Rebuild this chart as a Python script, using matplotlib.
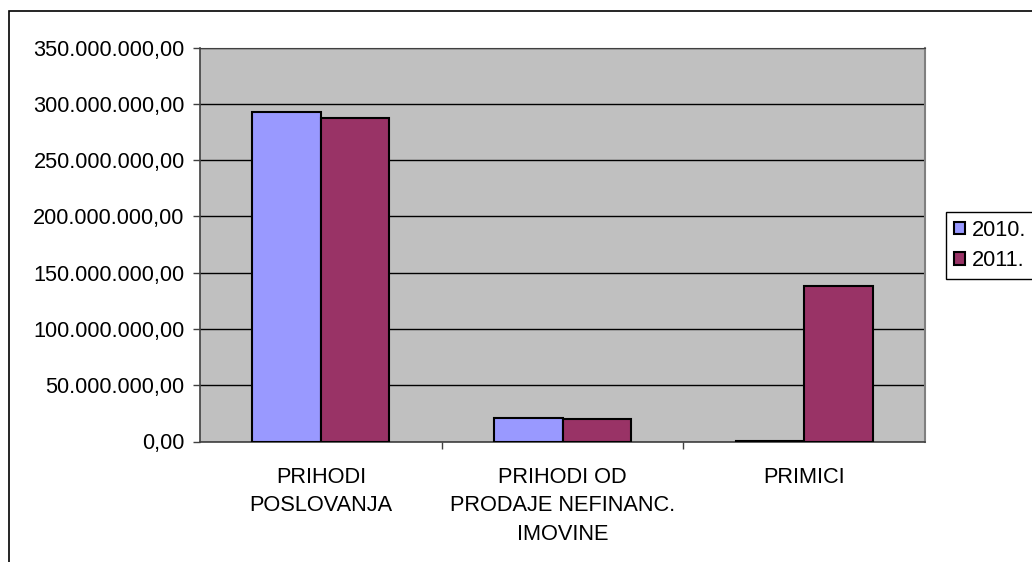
import matplotlib
matplotlib.use("Agg")
import matplotlib.pyplot as plt
from matplotlib.patches import Rectangle
from matplotlib.ticker import FuncFormatter, MultipleLocator
import numpy as np

categories = ["PRIHODI\nPOSLOVANJA", "PRIHODI OD\nPRODAJE NEFINANC.\nIMOVINE", "PRIMICI"]
series_names = ["2010.", "2011."]
values_2010 = [292.7e6, 20.6e6, 0.4e6]
values_2011 = [287.4e6, 19.7e6, 138.4e6]
colors = ["#9999FF", "#993366"]

plt.rcParams['font.family'] = ['Liberation Sans', 'DejaVu Sans']
FS = 15.7

fig = plt.figure(figsize=(10.32, 5.62), dpi=100)
W, H = 1032, 562
ax = fig.add_axes([200 / W, 1 - 441.5 / H, 725 / W, (441.5 - 47.7) / H])

# outer chart frame
fig.patches.append(Rectangle((9 / W, -0.2), 1.2, 1 - 11 / H + 0.2, transform=fig.transFigure,
                             fill=False, edgecolor="black", linewidth=1.2, zorder=0))

x = np.arange(len(categories))
bw = 0.284
ax.bar(x - bw / 2, values_2010, bw, color=colors[0], edgecolor="black", linewidth=1.5,
       label=series_names[0], zorder=3)
ax.bar(x + bw / 2, values_2011, bw, color=colors[1], edgecolor="black", linewidth=1.5,
       label=series_names[1], zorder=3)

ax.set_facecolor("#C0C0C0")
ax.set_xlim(-0.5, 2.5)
ax.set_ylim(0, 350e6)
ax.yaxis.set_major_locator(MultipleLocator(50e6))


def fmt(v, pos):
    s = f"{v:,.2f}"
    return s.replace(",", "X").replace(".", ",").replace("X", ".")


ax.yaxis.set_major_formatter(FuncFormatter(fmt))
ax.grid(axis="y", color="#000000", linewidth=1.0, zorder=1)
ax.set_axisbelow(True)

ax.set_xticks([0.5, 1.5])
ax.set_xticklabels([])
ax.set_xticks(x, minor=True)
ax.set_xticklabels(categories, minor=True, fontsize=FS, linespacing=1.45, va="top")
ax.tick_params(axis="x", which="minor", length=0, pad=18.5)
ax.tick_params(axis="x", which="major", length=5, width=1, color="#404040", direction="out")
ax.tick_params(axis="y", length=5, width=1, color="#404040", direction="out", pad=6, labelsize=FS)

for side in ["left", "bottom"]:
    ax.spines[side].set_color("#404040")
    ax.spines[side].set_linewidth(1.2)
ax.spines["right"].set_color("#808080")
ax.spines["right"].set_linewidth(1.5)
ax.spines["top"].set_color("#404040")

leg = fig.legend(loc="upper left", bbox_to_anchor=(946 / W, 1 - 212 / H), fontsize=FS,
                 frameon=True, fancybox=False, edgecolor="black", framealpha=1,
                 handlelength=0.5, handleheight=0.5, handletextpad=0.35,
                 borderpad=0.35, labelspacing=0.45, borderaxespad=0)
leg.get_frame().set_linewidth(1.0)

fig.savefig("out.png", dpi=100, facecolor="white")
